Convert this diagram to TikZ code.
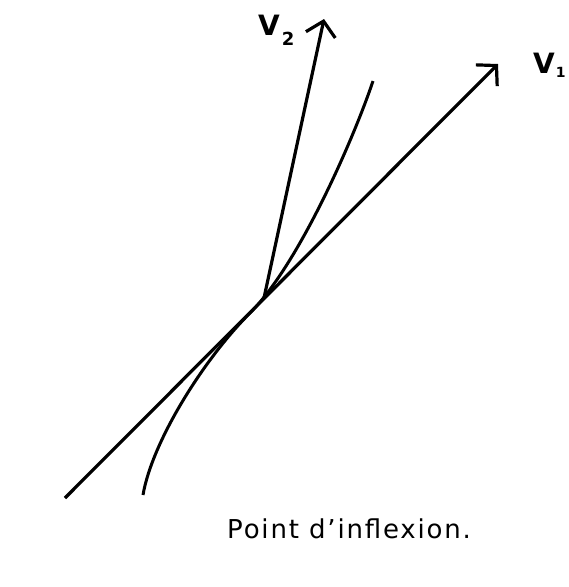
\documentclass[tikz,border=0pt]{standalone}
\usepackage{fontspec}
\setmainfont{DejaVu Sans}
\usetikzlibrary{arrows.meta}
\begin{document}
\begin{tikzpicture}[x=1pt,y=-1pt,
  vec/.style={line width=3.2pt,-{Straight Barb[length=14pt,width=30pt,line width=3.2pt]}},
  lab/.style={font=\fontsize{28}{28}\selectfont\bfseries, inner sep=0pt}]
\useasboundingbox (0,0) rectangle (569,587);
\coordinate (A) at (65,498);
\coordinate (B) at (498,64);
\coordinate (P) at (264,298);
\coordinate (C) at (324,19);
\coordinate (E1) at (143,495);
\coordinate (I) at (250,313);
\coordinate (E2) at (373,81);
\draw[vec] (A) -- (B);
\draw[vec] (P) -- (C);
\draw[line width=3pt] (E1) .. controls (152,442) and (203,360) .. (I)
  .. controls (300,263) and (355,135) .. (E2);
\node[lab, anchor=base west] (v1) at (533,73) {V\kern1pt\raisebox{-4pt}{\fontsize{14}{14}\selectfont 1}};
\node[lab, anchor=base west] (v2) at (258,35) {V\kern2pt\raisebox{-10pt}{\fontsize{18}{18}\selectfont 2}};
\node[anchor=base west, inner sep=0pt, font=\fontsize{26}{26}\selectfont\addfontfeatures{LetterSpace=7}] (t) at (227,538) {Point d’inflexion.};
\end{tikzpicture}
\end{document}
